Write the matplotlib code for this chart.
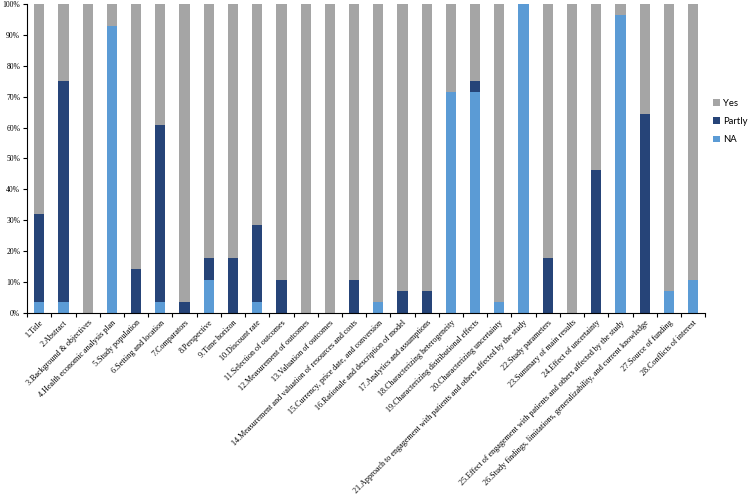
import matplotlib
matplotlib.use("Agg")
import matplotlib.pyplot as plt
import numpy as np
from matplotlib.ticker import PercentFormatter, FixedLocator

categories = [
    "1.Title", "2.Abstract", "3.Background & objectives", "4.Health economic analysis plan",
    "5.Study population", "6.Setting and location", "7.Comparators", "8.Perspective",
    "9.Time horizon", "10.Discount rate", "11.Selection of outcomes", "12.Measurement of outcomes",
    "13.Valuation of outcomes", "14.Measurement and valuation of resources and costs",
    "15.Currency, price date, and conversion", "16.Rationale and description of model",
    "17.Analytics and assumptions", "18.Characterizing heterogeneity",
    "19.Characterizing distributional effects", "20.Characterizing uncertainty",
    "21.Approach to engagement with patients and others affected by the study",
    "22.Study parameters", "23.Summary of main results", "24.Effect of uncertainty",
    "25.Effect of engagement with patients and others affected by the study",
    "26.Study findings, limitations, generalizability, and current knowledge",
    "27.Source of funding", "28.Conflicts of interest",
]
n_studies = 28
na_counts =     [1, 1, 0, 26, 0, 1, 0, 3, 0, 1, 0, 0, 0, 0, 1, 0, 0, 20, 20, 1, 28, 0, 0, 0, 27, 0, 2, 3]
partly_counts = [8, 20, 0, 0, 4, 16, 1, 2, 5, 7, 3, 0, 0, 3, 0, 2, 2, 0, 1, 0, 0, 5, 0, 13, 0, 18, 0, 0]

na = np.array(na_counts) / n_studies * 100
partly = np.array(partly_counts) / n_studies * 100
yes = 100 - na - partly

c_yes = "#A5A5A5"
c_partly = "#264478"
c_na = "#5B9BD5"

fig = plt.figure(figsize=(7.55, 4.96), dpi=100)
ax = fig.add_axes([0.036, 0.369, 0.898, 0.623])

x = np.arange(len(categories))
w = 0.42
b_na = ax.bar(x, na, w, color=c_na, label="NA")
b_pa = ax.bar(x, partly, w, bottom=na, color=c_partly, label="Partly")
b_ye = ax.bar(x, yes, w, bottom=na + partly, color=c_yes, label="Yes")

ax.set_xlim(-0.5, len(categories) - 0.5)
ax.set_ylim(0, 100)
ax.yaxis.set_major_locator(FixedLocator(np.arange(0, 101, 10)))
ax.yaxis.set_major_formatter(PercentFormatter(decimals=0))
serif = "Liberation Serif"
for lbl in ax.get_yticklabels():
    lbl.set_fontfamily(serif)
    lbl.set_fontsize(5.5)
ax.tick_params(axis="y", length=3, width=0.8, pad=2)

ax.set_xticks(x)
ax.set_xticklabels(categories, rotation=45, ha="right", va="top",
                   rotation_mode="anchor", fontsize=5.9, fontfamily=serif)
ax.tick_params(axis="x", which="major", length=0, pad=4)
ax.set_xticks(np.arange(-0.5, len(categories)), minor=True)
ax.tick_params(axis="x", which="minor", length=3, width=0.8, direction="out")

ax.spines["top"].set_visible(False)
ax.spines["right"].set_visible(False)
ax.spines["left"].set_linewidth(0.8)
ax.spines["bottom"].set_linewidth(0.8)

leg = fig.legend(handles=[b_ye, b_pa, b_na], labels=["Yes", "Partly", "NA"],
                 loc="center left", bbox_to_anchor=(0.942, 0.755), frameon=False,
                 borderpad=0.2, borderaxespad=0.0,
                 prop={"family": "Lato", "size": 6.8}, handlelength=0.7,
                 handleheight=0.7, handletextpad=0.4, labelspacing=1.0)

fig.savefig("out.png", dpi=100)
